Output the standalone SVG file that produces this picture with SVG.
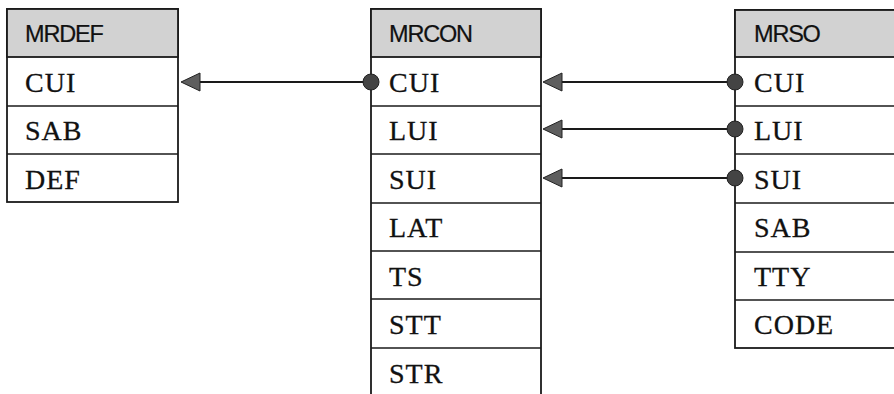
<svg xmlns="http://www.w3.org/2000/svg" width="894" height="394" viewBox="0 0 894 394">
<style>
.box{fill:#fff;stroke:#1a1a1a;stroke-width:1.8}
.hdr{fill:#d2d2d2;stroke:#1a1a1a;stroke-width:1.8}
.sep{stroke:#1a1a1a;stroke-width:1.6}
.ht{font-family:"Liberation Sans",Arial,sans-serif;font-size:23.5px;fill:#111;letter-spacing:-1.2px;stroke:#111;stroke-width:0.2}
.rt{font-family:"Liberation Serif","Times New Roman",serif;font-size:28px;fill:#111;letter-spacing:1px;stroke:#111;stroke-width:0.3}
.conn{stroke:#1a1a1a;stroke-width:1.8;fill:none}
.dot{fill:#444;stroke:#222;stroke-width:1}
.ah{fill:#5e5e5e;stroke:#222;stroke-width:1}
</style>
<rect width="894" height="394" fill="#fff"/>
<g id="MRDEF">
<rect class="box" x="7" y="9" width="171" height="193"/>
<rect class="hdr" x="7" y="9" width="171" height="48"/>
<line class="sep" x1="7" y1="106" x2="178" y2="106"/>
<line class="sep" x1="7" y1="154" x2="178" y2="154"/>
<text class="ht" x="25" y="42">MRDEF</text>
<text class="rt" x="25" y="92">CUI</text>
<text class="rt" x="25" y="140">SAB</text>
<text class="rt" x="25" y="189">DEF</text>
</g>
<g id="MRCON">
<rect class="box" x="371" y="9" width="170" height="400"/>
<rect class="hdr" x="371" y="9" width="170" height="48"/>
<line class="sep" x1="371" y1="106" x2="541" y2="106"/>
<line class="sep" x1="371" y1="154" x2="541" y2="154"/>
<line class="sep" x1="371" y1="203" x2="541" y2="203"/>
<line class="sep" x1="371" y1="251" x2="541" y2="251"/>
<line class="sep" x1="371" y1="299" x2="541" y2="299"/>
<line class="sep" x1="371" y1="348" x2="541" y2="348"/>
<text class="ht" x="389" y="42">MRCON</text>
<text class="rt" x="389" y="92">CUI</text>
<text class="rt" x="389" y="140">LUI</text>
<text class="rt" x="389" y="189">SUI</text>
<text class="rt" x="389" y="237">LAT</text>
<text class="rt" x="389" y="286">TS</text>
<text class="rt" x="389" y="334">STT</text>
<text class="rt" x="389" y="383">STR</text>
</g>
<g id="MRSO">
<rect class="box" x="735" y="10" width="170" height="338"/>
<rect class="hdr" x="735" y="10" width="170" height="47"/>
<line class="sep" x1="735" y1="106" x2="900" y2="106"/>
<line class="sep" x1="735" y1="154" x2="900" y2="154"/>
<line class="sep" x1="735" y1="203" x2="900" y2="203"/>
<line class="sep" x1="735" y1="252" x2="900" y2="252"/>
<line class="sep" x1="735" y1="300" x2="900" y2="300"/>
<text class="ht" x="754" y="42">MRSO</text>
<text class="rt" x="754" y="92">CUI</text>
<text class="rt" x="754" y="140">LUI</text>
<text class="rt" x="754" y="189">SUI</text>
<text class="rt" x="754" y="237">SAB</text>
<text class="rt" x="754" y="286">TTY</text>
<text class="rt" x="754" y="334">CODE</text>
</g>
<g id="connectors">
<line class="conn" x1="198" y1="82" x2="371" y2="82"/>
<polygon class="ah" points="181,82 200,73 200,91"/>
<circle class="dot" cx="371" cy="82" r="8"/>
<line class="conn" x1="561" y1="82" x2="735" y2="82"/>
<polygon class="ah" points="543,82 562,73 562,91"/>
<circle class="dot" cx="735" cy="82" r="8"/>
<line class="conn" x1="561" y1="129" x2="735" y2="129"/>
<polygon class="ah" points="543,129 562,120 562,138"/>
<circle class="dot" cx="735" cy="129" r="8"/>
<line class="conn" x1="561" y1="178" x2="735" y2="178"/>
<polygon class="ah" points="543,178 562,169 562,187"/>
<circle class="dot" cx="735" cy="178" r="8"/>
</g>
</svg>
